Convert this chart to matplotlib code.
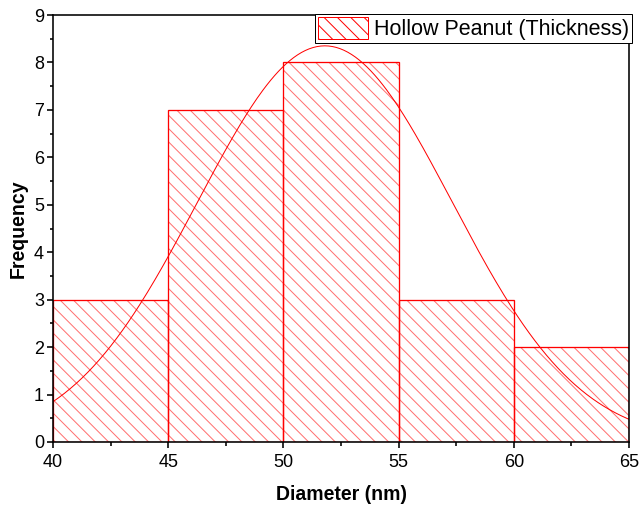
import numpy as np
import matplotlib
matplotlib.use("Agg")
import matplotlib.pyplot as plt
from matplotlib.patches import Patch

DPI = 80


def px(v):
    # pixel size -> points at the figure dpi
    return v * 72.0 / DPI


plt.rcParams['font.family'] = ['Liberation Sans', 'DejaVu Sans']
plt.rcParams['hatch.linewidth'] = px(1.0)

# histogram of thickness
bin_left = [40, 45, 50, 55, 60]
bin_width = 5
counts = [3, 7, 8, 3, 2]

# gaussian fit parameters
fit_center = 51.8
fit_sigma = 5.52
fit_amp = 8.35

red = '#ff0000'
light_red = '#ff7070'
hatch = '\\\\'

fig = plt.figure(figsize=(640 / DPI, 508 / DPI), dpi=DPI)
ax = fig.add_axes([53 / 640, 1 - 442 / 508, 576 / 640, 427 / 508])

ax.bar(bin_left, counts, width=bin_width, align='edge', color='none',
       edgecolor=light_red, hatch=hatch, linewidth=0)
ax.bar(bin_left, counts, width=bin_width, align='edge', fill=False,
       edgecolor=red, linewidth=px(1.3))

xf = np.linspace(40, 65, 300)
ax.plot(xf, fit_amp * np.exp(-(xf - fit_center) ** 2 / (2 * fit_sigma ** 2)),
        color=red, linewidth=px(1.0))

ax.set_xlim(40, 65)
ax.set_ylim(0, 9)
ax.set_xticks(range(40, 66, 5))
ax.set_xticks(np.arange(42.5, 65, 5), minor=True)
ax.set_yticks(range(0, 10))
ax.set_yticks(np.arange(0.5, 9, 1), minor=True)
ax.tick_params(which='major', direction='out', length=px(6), width=px(1.6),
               labelsize=px(18), pad=px(3))
ax.tick_params(axis='x', which='major', pad=px(6))
ax.tick_params(which='minor', direction='out', length=px(3.5), width=px(1.6))
for s in ax.spines.values():
    s.set_linewidth(px(1.6))

ax.set_xlabel('Diameter (nm)', fontsize=px(19.5), fontweight='bold',
              labelpad=px(14))
ax.set_ylabel('Frequency', fontsize=px(19.5), fontweight='bold',
              labelpad=px(6))

handle = Patch(facecolor='none', edgecolor=red, hatch=hatch, linewidth=px(1.0))
leg = ax.legend([handle], ['Hollow Peanut (Thickness)'], loc='upper right',
                bbox_to_anchor=(1.005, 1.0023), fontsize=px(21.5),
                frameon=True, fancybox=False, edgecolor='black', framealpha=1,
                borderpad=0.15, handlelength=2.3, handleheight=1.15,
                handletextpad=0.28, borderaxespad=0)
leg.get_frame().set_linewidth(px(1.0))

fig.savefig('out.png', dpi=DPI)
